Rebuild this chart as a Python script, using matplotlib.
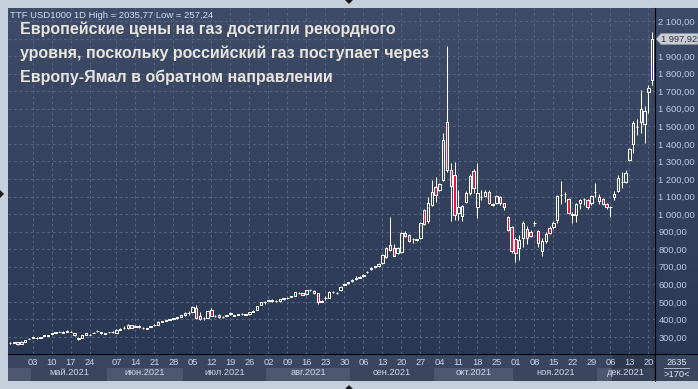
#!/usr/bin/env python3

import numpy as np
import pandas as pd
import matplotlib
matplotlib.use("Agg")
from matplotlib import pyplot as plt
from matplotlib.patches import Polygon, Rectangle
from matplotlib.lines import Line2D
from matplotlib.colors import LinearSegmentedColormap

# trading days shown (three days around 31 May are missing in the source)
dates = pd.bdate_range("2021-04-23", "2021-12-21")
dates = dates.drop(pd.to_datetime(["2021-05-31", "2021-06-01", "2021-06-02"]))

opens = [
  265, 268, 270, 262, 274, 288, 296, 297, 296, 306,
  307, 318, 325, 328, 325, 329, 331, 322, 288, 294,
  323, 312, 322, 332, 328, 318, 326, 326, 324, 342,
  352, 350, 366, 358, 364, 352, 348, 358, 366, 370,
  386, 392, 396, 403, 406, 414, 424, 436, 445, 467,
  418, 410, 410, 454, 420, 426, 416, 420, 430, 424,
  428, 430, 426, 430, 444, 455, 484, 500, 506, 512,
  504, 504, 520, 520, 528, 534, 549, 548, 545, 566,
  562, 550, 502, 520, 522, 556, 550, 566, 598, 608,
  618, 628, 642, 648, 668, 688, 702, 702, 720, 754,
  824, 806, 777, 786, 894, 880, 858, 853, 862, 1024,
  958, 1052, 1157, 1138, 1195, 1527, 1252, 1223, 1005, 989,
  1071, 1122, 1246, 1043, 1095, 1105, 1128, 1052, 1062, 1099,
  1062, 986, 925, 857, 806, 862, 914, 900, 948, 906,
  790, 849, 920, 925, 967, 1109, 1113, 1084, 995, 995,
  1062, 1084, 1081, 1062, 1128, 1077, 1084, 1058, 1039, 1096,
  1134, 1182, 1185, 1308, 1400, 1495, 1527, 1513, 1698, 1764,
]
highs = [
  270, 274, 271, 276, 284, 292, 300, 299, 300, 312,
  310, 322, 330, 332, 336, 338, 334, 324, 300, 314,
  325, 316, 330, 338, 330, 322, 329, 332, 346, 350,
  360, 372, 368, 368, 366, 358, 352, 364, 372, 392,
  392, 398, 404, 408, 414, 428, 442, 450, 478, 480,
  445, 416, 450, 465, 428, 430, 422, 428, 440, 428,
  432, 434, 432, 442, 452, 478, 502, 506, 512, 514,
  508, 518, 522, 526, 534, 558, 556, 550, 570, 574,
  565, 552, 510, 532, 562, 562, 556, 590, 606, 614,
  632, 648, 650, 660, 676, 698, 706, 720, 770, 812,
  984, 830, 810, 900, 905, 885, 866, 860, 955, 1030,
  1100, 1195, 1214, 1178, 1460, 1958, 1290, 1299, 1138, 1050,
  1130, 1230, 1255, 1291, 1140, 1140, 1140, 1062, 1110, 1106,
  1066, 990, 935, 870, 880, 960, 930, 908, 960, 912,
  862, 900, 935, 960, 1109, 1190, 1125, 1090, 1010, 1064,
  1085, 1090, 1086, 1110, 1180, 1115, 1090, 1062, 1045, 1130,
  1220, 1240, 1250, 1375, 1530, 1540, 1707, 1616, 1736, 2035.77,
]
lows = [
  262, 266, 257.24, 260, 272, 286, 294, 288, 294, 304,
  305, 316, 323, 326, 323, 327, 326, 308, 285, 292,
  311, 310, 320, 330, 318, 316, 324, 320, 320, 340,
  348, 346, 350, 356, 354, 346, 343, 356, 364, 368,
  384, 390, 394, 400, 404, 412, 420, 424, 440, 405,
  398, 398, 408, 418, 412, 408, 410, 418, 428, 418,
  426, 424, 424, 428, 440, 452, 480, 488, 504, 502,
  500, 502, 512, 516, 526, 532, 544, 538, 540, 562,
  545, 490, 500, 510, 520, 552, 546, 562, 594, 604,
  614, 624, 634, 644, 664, 682, 694, 698, 716, 748,
  790, 760, 772, 780, 870, 840, 834, 848, 856, 940,
  950, 1045, 1071, 1130, 1190, 1240, 958, 968, 968, 960,
  1062, 1110, 1120, 980, 1080, 1098, 1058, 1046, 1058, 1050,
  1026, 905, 780, 729, 740, 810, 830, 870, 930, 810,
  760, 835, 885, 915, 950, 1060, 1070, 1000, 950, 955,
  1030, 1050, 1030, 1050, 1100, 1060, 1050, 1030, 986, 1080,
  1125, 1150, 1180, 1300, 1348, 1450, 1460, 1407, 1578, 1736,
]
closes = [
  268, 272, 260, 274, 282, 290, 298, 295, 298, 310,
  309, 321, 327, 330, 326, 336, 330, 310, 296, 312,
  313, 313, 325, 335, 320, 320, 327, 326, 340, 348,
  354, 366, 352, 360, 356, 352, 349, 362, 370, 388,
  390, 396, 402, 406, 412, 425, 438, 436, 473, 408,
  404, 410, 446, 422, 418, 412, 416, 426, 434, 422,
  430, 430, 430, 440, 450, 475, 500, 500, 510, 505,
  504, 515, 514, 523, 532, 555, 549, 540, 568, 570,
  550, 502, 506, 520, 558, 556, 552, 586, 602, 612,
  622, 634, 636, 656, 672, 692, 697, 716, 765, 806,
  796, 762, 806, 891, 876, 847, 858, 858, 948, 944,
  1062, 1128, 1109, 1172, 1422, 1252, 1160, 995, 1043, 1046,
  1122, 1219, 1147, 1119, 1095, 1124, 1062, 1055, 1103, 1065,
  1039, 910, 792, 777, 853, 952, 862, 876, 948, 834,
  849, 886, 891, 948, 1103, 1109, 1113, 1005, 1000, 1058,
  1081, 1084, 1039, 1103, 1128, 1096, 1056, 1043, 1039, 1115,
  1205, 1182, 1237, 1369, 1521, 1495, 1597, 1590, 1717, 1997.92,
]

title_lines = [
  "Европейские цены на газ достигли рекордного",
  "уровня, поскольку российский газ поступает через",
  "Европу-Ямал в обратном направлении",
]
month_names = {4: "апр.", 5: "май.", 6: "июн.", 7: "июл.", 8: "авг.",
               9: "сен.", 10: "окт.", 11: "ноя.", 12: "дек."}
price_ticks = list(range(300, 2101, 100))
corner_top = "2635"
corner_bottom = ">170<"

W, H = 698, 389
BG_TOP = "#3e4c68"
BG_BOT = "#2b3853"
FRAME = "#c6cfdb"
GRID = "#56637e"
LABEL = "#b9cde8"
RED = "#e3163e"

def rect(l, t, r, b):
  return [l / W, 1 - b / H, (r - l) / W, (b - t) / H]

def fmt(v):
  return f"{v:,.2f}".replace(",", " ").replace(".", ",")

plt.rcParams['font.family'] = ['Liberation Sans', 'DejaVu Sans']

fig = plt.figure(figsize=(W / 100, H / 100), dpi=100)
fig.patch.set_facecolor(FRAME)

# gradient background of the chart + price scale
bg = fig.add_axes(rect(8, 8, 698, 354))
grad = np.linspace(0, 1, 256).reshape(-1, 1)
cmap = LinearSegmentedColormap.from_list("bg", [BG_TOP, BG_BOT])
bg.imshow(grad, aspect="auto", cmap=cmap, extent=(0, 1, 0, 1), origin="upper")
bg.set_axis_off()

n = len(closes)
assert len(opens) == len(highs) == len(lows) == n == len(dates)
x = np.arange(n)
o, h, l, c = (np.array(a, dtype=float) for a in (opens, highs, lows, closes))
up = c >= o
top = np.maximum(o, c)
bot = np.minimum(o, c)

x_left = -2 / 3.8
x_right = x_left + 647 / 3.8
y_top = 2100 + 13 * 1800 / 316
y_bot = 300 - 17 * 1800 / 316

ax = fig.add_axes(rect(8, 8, 655, 354))
ax.patch.set_alpha(0)
ax.set_xlim(x_left, x_right)
ax.set_ylim(y_bot, y_top)

mondays = [i for i, d in enumerate(dates) if d.weekday() == 0 and d.month > 4]
ax.set_xticks(mondays)
ax.set_yticks(price_ticks)
ax.grid(True, color=GRID, lw=0.8, linestyle=(0, (2.5, 2.5)))
ax.tick_params(axis="x", length=0, labelbottom=False)
ax.yaxis.tick_right()
ax.tick_params(axis="y", length=0, pad=2.5, labelsize=6.7, labelcolor=LABEL)
# the label next to the last price is covered by the price tag
ax.set_yticklabels(["" if abs(v - closes[-1]) < 60 else fmt(v) for v in price_ticks])
for s in ax.spines.values():
  s.set_visible(False)

ax.vlines(x, top, h, color="white", lw=0.75, zorder=3)
ax.vlines(x, l, bot, color="white", lw=0.75, zorder=3)
ax.bar(x[up], (top - bot)[up], bottom=bot[up], width=0.58,
       facecolor="none", edgecolor="white", lw=0.75, zorder=4)
ax.bar(x[~up], (top - bot)[~up], bottom=bot[~up], width=0.58,
       facecolor=RED, edgecolor="white", lw=0.75, zorder=4)

# header and title
fig.text(10 / W, 1 - 17.5 / H,
         f"TTF USD1000 1D High = {fmt(max(highs)).replace(' ', '')} Low = {fmt(min(lows))}",
         fontsize=6.8, color="#cfe0f2", va="baseline")
for k, line in enumerate(title_lines):
  fig.text(20 / W, 1 - (34 + 24 * k) / H, line, fontsize=11.5, fontweight="bold",
           color="#e8e5e0", va="baseline")

# last price tag
tag_px = [(656, 39), (661, 33.5), (698, 33.5), (698, 44.5), (661, 44.5)]
fig.patches.append(Polygon([(px / W, 1 - py / H) for px, py in tag_px], closed=True,
                           transform=fig.transFigure, facecolor="#c9cdd4",
                           edgecolor="#8c94a2", lw=0.5))
fig.text(661 / W, 1 - 39 / H, fmt(closes[-1]), fontsize=6.7, color="#2a3040",
         va="center", ha="left")

# bottom date axis
bax = fig.add_axes(rect(8, 354, 655, 381))
bax.set_facecolor("#3a4660")
bax.set_xlim(x_left, x_right)
bax.set_ylim(0, 1)
bax.set_xticks([])
bax.set_yticks([])
for s in bax.spines.values():
  s.set_visible(False)
row = 13 / 27
months = pd.Series(np.arange(n), index=dates).groupby([dates.year, dates.month])
for (yr, mo), idx in months:
  a = max(idx.iloc[0] - 0.5, x_left)
  b = min(idx.iloc[-1] + 0.5, x_right)
  if mo % 2 == 0:
    bax.add_patch(Rectangle((a, 0), b - a, row, facecolor="#4c5872", lw=0))
  if mo != 4:
    bax.text((a + b) / 2, 0.30, f"{month_names[mo]}{yr}", ha="center", va="center",
             fontsize=6.7, color="#c9d7ea")
for i in mondays:
  bax.text(i, 0.70, dates[i].strftime("%d"), ha="center", va="center",
           fontsize=6.7, color="#c9d7ea")
bax.add_patch(Rectangle((x_left + 604 / 3.8, 0), 43 / 3.8, 1, facecolor="#1e2638",
                        alpha=0.45, lw=0))

cax = fig.add_axes(rect(655, 354, 698, 381))
cax.set_facecolor("#3a4660")
cax.set_xlim(0, 1)
cax.set_ylim(0, 1)
cax.set_xticks([])
cax.set_yticks([])
for s in cax.spines.values():
  s.set_visible(False)
cax.text(0.5, 0.70, corner_top, ha="center", va="center", fontsize=6.7, color="#dfe6f0")
cax.text(0.5, 0.24, corner_bottom, ha="center", va="center", fontsize=6.7, color="#dfe6f0")
cax.plot([0.2, 0.8], [0.47, 0.47], color="#c0c8d4", lw=0.6)

# separators
fig.lines.append(Line2D([655 / W, 655 / W], [1 - 8 / H, 1 - 381 / H], color="black", lw=0.8,
                        transform=fig.transFigure))
fig.lines.append(Line2D([8 / W, 1], [1 - 354 / H, 1 - 354 / H], color="black", lw=0.8,
                        transform=fig.transFigure))

# frame arrows
for pts in ([(345, 0), (353, 0), (349, 4)], [(0, 190), (0, 198), (4, 194)],
            [(345, 389), (353, 389), (349, 385)]):
  fig.patches.append(Polygon([(px / W, 1 - py / H) for px, py in pts], closed=True,
                             transform=fig.transFigure, facecolor="#1a1a1a", lw=0))

fig.savefig("out.png", dpi=100, facecolor=fig.get_facecolor())
